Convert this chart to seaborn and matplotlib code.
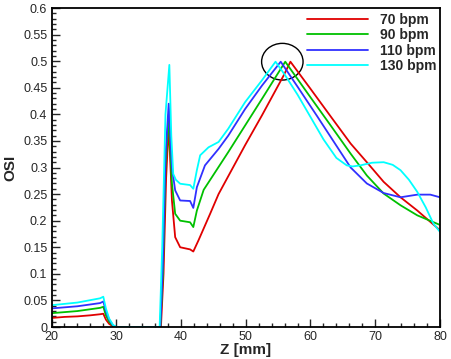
import numpy as np
import pandas as pd
import matplotlib
matplotlib.use("Agg")
import matplotlib.pyplot as plt
from matplotlib.patches import Ellipse
import seaborn as sns

# OSI along the vessel axis for four heart rates
labels = ["70 bpm", "90 bpm", "110 bpm", "130 bpm"]
colors = ["#e00000", "#00c000", "#3030ff", "#00ffff"]

z_70 = [20, 22, 24, 26, 27.5, 28, 28.4, 28.9, 29.5, 30, 36.9, 37.3, 37.7, 38.1, 38.35, 38.6,
        39.1, 39.87, 41.4, 41.9, 42.7, 44.5, 45.8, 49.9, 52.5, 55.85, 56.9, 60, 63, 66.2,
        68.7, 71.3, 73.9, 76.5, 80]
osi_70 = [0.017, 0.019, 0.020, 0.022, 0.024, 0.025, 0.014, 0.006, 0.001, 0, 0, 0.1, 0.28, 0.38,
          0.31, 0.238, 0.169, 0.15, 0.146, 0.142, 0.163, 0.213, 0.25, 0.342, 0.398, 0.473,
          0.499, 0.448, 0.398, 0.345, 0.31, 0.273, 0.244, 0.219, 0.182]

z_90 = [20, 24, 27.5, 28, 28.4, 28.9, 29.5, 30, 36.8, 37.2, 37.6, 38.1, 38.35, 38.6, 39.1, 39.87,
        41.4, 41.9, 42.45, 43.5, 47.3, 49.9, 52.5, 56.1, 60, 63, 66.2, 68.7, 71.3, 73.9,
        76.5, 80]
osi_90 = [0.026, 0.030, 0.036, 0.038, 0.022, 0.010, 0.002, 0, 0, 0.1, 0.3, 0.40, 0.33, 0.27,
          0.213, 0.2, 0.197, 0.188, 0.219, 0.258, 0.329, 0.379, 0.429, 0.499, 0.432, 0.381,
          0.326, 0.285, 0.251, 0.229, 0.21, 0.192]

z_110 = [20, 24, 27.5, 28, 28.4, 28.9, 29.5, 30, 36.8, 37.2, 37.6, 38.1, 38.35, 38.6, 39.1,
         39.87, 41.4, 41.9, 42.45, 43.7, 45.8, 47.3, 49.9, 52.5, 55.4, 58, 61, 64, 66.2, 67.7,
         68.7, 71.3, 73.9, 76.5, 78.5, 80]
osi_110 = [0.035, 0.039, 0.045, 0.048, 0.030, 0.014, 0.003, 0, 0, 0.12, 0.32, 0.42, 0.36, 0.30,
           0.257, 0.238, 0.237, 0.224, 0.263, 0.304, 0.335, 0.36, 0.41, 0.454, 0.499, 0.452,
           0.397, 0.341, 0.30, 0.282, 0.27, 0.252, 0.244, 0.249, 0.249, 0.244]

z_130 = [20, 24, 27.5, 28, 28.4, 28.9, 29.5, 30, 36.7, 37.1, 37.6, 38.2, 38.5, 38.8, 39.2, 39.87,
         41.4, 41.9, 42.45, 42.96, 44.25, 45.8, 47.3, 49.9, 52.5, 54.6, 56, 58, 60, 62, 64,
         65.6, 66.5, 67.7, 69.5, 71.3, 72.7, 73.9, 75.2, 76.5, 77.8, 79.0, 80]
osi_130 = [0.041, 0.046, 0.054, 0.057, 0.035, 0.016, 0.004, 0, 0, 0.15, 0.40, 0.493, 0.36, 0.288,
           0.277, 0.2695, 0.267, 0.26, 0.295, 0.323, 0.338, 0.348, 0.373, 0.423, 0.464, 0.499,
           0.475, 0.437, 0.395, 0.353, 0.318, 0.304, 0.302, 0.304, 0.309, 0.31, 0.305, 0.295,
           0.277, 0.254, 0.225, 0.194, 0.179]

xticks = [20, 30, 40, 50, 60, 70, 80]
yticks = [0, 0.05, 0.1, 0.15, 0.2, 0.25, 0.3, 0.35, 0.4, 0.45, 0.5, 0.55, 0.6]

series = [(labels[0], z_70, osi_70), (labels[1], z_90, osi_90),
          (labels[2], z_110, osi_110), (labels[3], z_130, osi_130)]
df = pd.concat([pd.DataFrame({"Z": z, "OSI": o, "rate": lab}) for lab, z, o in series],
               ignore_index=True)

sns.set_style("ticks")
plt.rcParams["font.family"] = ["Liberation Sans", "DejaVu Sans"]

fig = plt.figure(figsize=(4.51, 3.59), dpi=100)
ax = fig.add_axes([0.1142, 0.0891, 0.8614, 0.8886])

sns.lineplot(data=df, x="Z", y="OSI", hue="rate", hue_order=labels, palette=colors,
             sort=False, estimator=None, linewidth=1.3, legend=False, ax=ax)

# circle marking the peaks
peak_x = np.mean([z[int(np.argmax(o))] for _, z, o in series])
peak_y = max(max(o) for _, _, o in series)
ax.add_patch(Ellipse((peak_x - 0.1, peak_y), 6.4, 0.069, fill=False, ec="black", lw=1.0))

ax.set_xlim(20, 80)
ax.set_ylim(0, 0.6)
ax.set_xticks(xticks)
ax.set_yticks(yticks)
ax.set_yticklabels([f"{v:g}" for v in yticks])
ax.set_xticks(np.arange(20, 81, 2), minor=True)
ax.set_yticks(np.arange(0, 0.601, 0.01), minor=True)
ax.tick_params(which="both", direction="in", top=False, right=False, labelsize=9, width=1.0)
ax.tick_params(which="major", length=6, pad=3)
ax.tick_params(which="minor", length=3)
for s in ax.spines.values():
    s.set_linewidth(1.3)
    s.set_color("black")

ax.set_xlabel("Z [mm]", fontsize=11, fontweight="bold", labelpad=0)
ax.set_ylabel("OSI", fontsize=11, fontweight="bold", labelpad=4)

ax.legend(ax.lines[:4], labels, loc="upper left", bbox_to_anchor=(0.658, 0.985),
          frameon=False, handlelength=4.4, handletextpad=0.85, labelspacing=0.1,
          borderpad=0, borderaxespad=0, prop={"size": 10, "weight": "bold"})

fig.savefig("out.png", dpi=100)
